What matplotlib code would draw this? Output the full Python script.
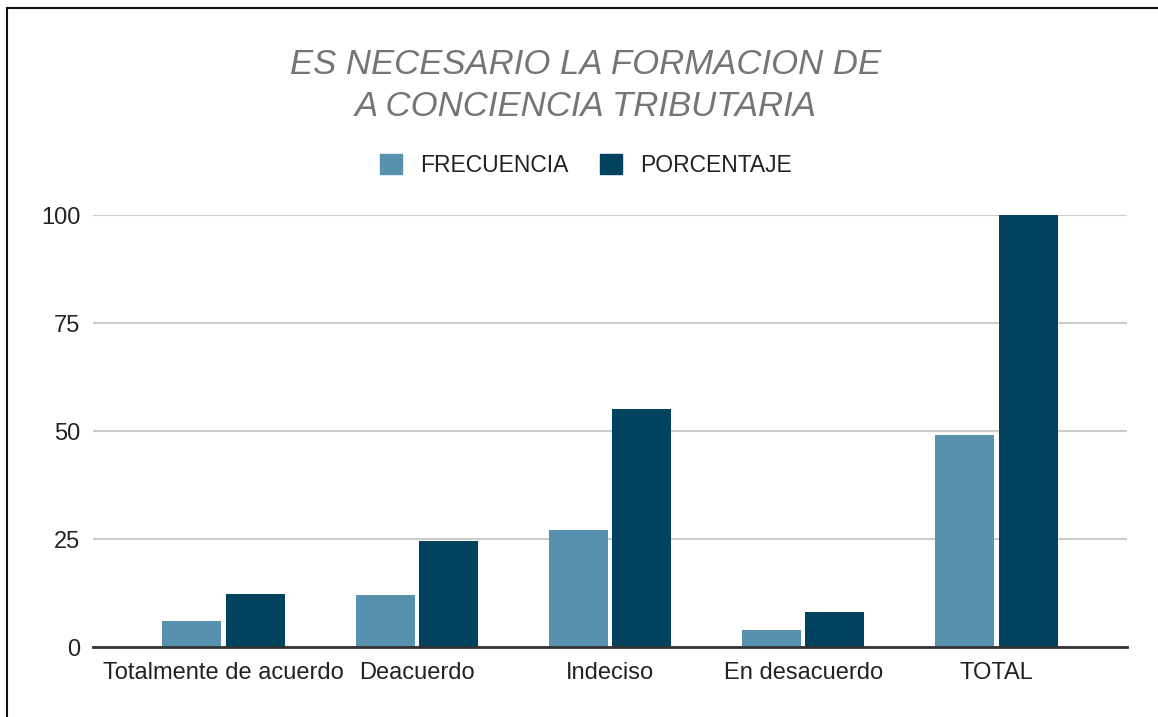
import matplotlib
matplotlib.use('Agg')
from matplotlib import pyplot as plt
from matplotlib.lines import Line2D
from matplotlib.patches import Patch
import numpy as np

plt.rcParams['font.family'] = ['Liberation Sans', 'DejaVu Sans']

# datos
categorias = ['Totalmente de acuerdo', 'Deacuerdo', 'Indeciso', 'En desacuerdo', 'TOTAL']
frecuencia = [6, 12, 27, 4, 49]
porcentaje = [12.24, 24.49, 55.10, 8.16, 100]
series = ['FRECUENCIA', 'PORCENTAJE']
y_ticks = [0, 25, 50, 75, 100]

color_claro = '#5891ad'
color_oscuro = '#01425e'

W, H = 1158, 717
fig = plt.figure(figsize=(W / 100, H / 100), dpi=100)
ax = fig.add_axes([93 / W, 1 - 647 / H, (1127 - 93) / W, (647 - 215) / H])

x = np.arange(len(categorias))
ancho = 0.305
ax.bar(x - ancho / 2 - 0.011, frecuencia, ancho, color=color_claro, zorder=3)
ax.bar(x + ancho / 2 + 0.011, porcentaje, ancho, color=color_oscuro, zorder=3)

ax.set_xlim(-0.675, 4.675)
ax.set_ylim(0, 100)
ax.set_yticks(y_ticks)
ax.set_xticks(x)
ax.set_xticklabels(categorias)
ax.tick_params(axis='both', length=0, labelsize=17, labelcolor='#222222')
ax.tick_params(axis='y', pad=9)
ax.tick_params(axis='x', pad=11)

ax.grid(axis='y', color='#cccccc', linewidth=1.5, zorder=0)
for lado in ['top', 'right', 'left']:
    ax.spines[lado].set_visible(False)
ax.spines['bottom'].set_color('#333333')
ax.spines['bottom'].set_linewidth(2)
ax.spines['bottom'].set_zorder(4)

# titulo
fig.text(586 / W, 1 - 65 / H, 'ES NECESARIO LA FORMACION DE', ha='center', va='center',
         fontsize=25, style='italic', color='#757575')
fig.text(586 / W, 1 - 107 / H, 'A CONCIENCIA TRIBUTARIA', ha='center', va='center',
         fontsize=25, style='italic', color='#757575')

# leyenda
handles = [Patch(color=color_claro), Patch(color=color_oscuro)]
fig.legend(handles, series, loc='center', bbox_to_anchor=(586 / W, 1 - 165 / H), ncol=2,
           frameon=False, fontsize=16.5, handlelength=0.95, handleheight=0.95,
           handletextpad=0.8, columnspacing=1.4, labelcolor='#222222')

# borde
fig.add_artist(Line2D([7 / W, 1], [1 - 8 / H, 1 - 8 / H], color='#111111', linewidth=1.5))
fig.add_artist(Line2D([7 / W, 7 / W], [0, 1 - 8 / H], color='#111111', linewidth=1.5))

fig.savefig('out.png', dpi=100)
